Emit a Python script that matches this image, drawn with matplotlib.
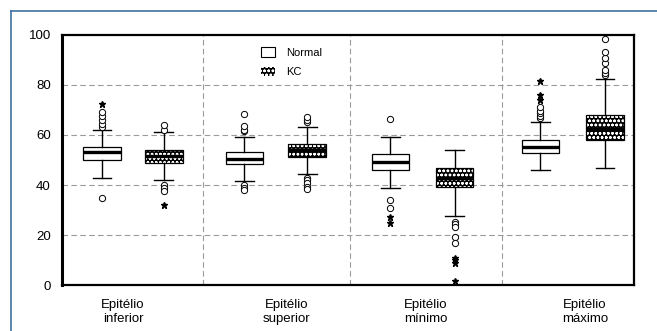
import matplotlib
matplotlib.use('Agg')
import matplotlib.pyplot as plt
from matplotlib.patches import Patch
from matplotlib.lines import Line2D

plt.rcParams['font.family'] = ['Liberation Sans', 'DejaVu Sans']
plt.rcParams['hatch.linewidth'] = 0.7

# group labels and box stats (Normal, KC alternating)
group_labels = ['Epitélio\ninferior', 'Epitélio\nsuperior', 'Epitélio\nmínimo', 'Epitélio\nmáximo']
group_label_pos = [0.427, 1.573, 2.545, 3.657]
group_dividers = [0.986, 2.014, 3.077]

box_names = ['Normal', 'KC'] * 4
box_pos = [0.28, 0.712, 1.276, 1.714, 2.296, 2.746, 3.346, 3.797]
q1 = [49.9, 48.9, 48.3, 51.3, 46.0, 39.1, 52.9, 57.9]
med = [53.2, 51.7, 50.4, 53.9, 49.2, 43.0, 55.0, 62.3]
q3 = [55.1, 54.0, 53.3, 56.4, 52.3, 46.9, 58.0, 68.0]
whis_lo = [42.9, 42.0, 41.6, 44.4, 38.9, 27.7, 45.9, 46.9]
whis_hi = [62.1, 61.2, 59.3, 63.3, 59.2, 54.0, 65.1, 82.3]
# outliers (circles) and extreme values (stars)
outliers = [
    [63, 64.5, 66, 67.5, 69, 34.9],
    [62, 64.1, 40, 38.7, 37.6],
    [61.4, 62, 63.6, 68.4, 40, 38.9, 38],
    [65, 66, 67, 43, 42, 41, 39.3, 38.3],
    [66.3, 34, 30.9],
    [25.3, 24.4, 23.3, 19.3, 16.7],
    [66.7, 67.7, 68.7, 69.7, 71],
    [84, 84.9, 86, 88.7, 90.9, 93.2, 98.3],
]
extremes = [
    [72.3],
    [31.9],
    [],
    [],
    [27.1, 25],
    [11, 10, 8.9, 1.6],
    [74, 76, 81.6],
    [],
]

fig = plt.figure(figsize=(6.57, 3.31), dpi=100)
ax = fig.add_axes([62 / 657, 46 / 331, 572 / 657, 250 / 331])

stats = []
for i in range(len(box_pos)):
    stats.append({'med': med[i], 'q1': q1[i], 'q3': q3[i],
                  'whislo': whis_lo[i], 'whishi': whis_hi[i],
                  'fliers': outliers[i], 'label': box_names[i]})

bp = ax.bxp(stats, positions=box_pos, widths=0.263, patch_artist=True,
            boxprops=dict(linewidth=0.9, edgecolor='black', facecolor='white'),
            medianprops=dict(color='black', linewidth=2.4),
            whiskerprops=dict(color='black', linewidth=1.0),
            capprops=dict(color='black', linewidth=1.0),
            flierprops=dict(marker='o', markersize=4.5, markerfacecolor='white',
                            markeredgecolor='black', markeredgewidth=0.7),
            zorder=3)

kc_hatch = 'oooo'
for i, box in enumerate(bp['boxes']):
    if box_names[i] == 'KC':
        box.set_facecolor('black')
        box.set_edgecolor('white')
        box.set_hatch(kc_hatch)
        box.set_linewidth(0)
        # black outline on top
        ax.add_patch(plt.Rectangle((box_pos[i] - 0.1315, q1[i]), 0.263, q3[i] - q1[i],
                                   fill=False, edgecolor='black', linewidth=0.9, zorder=3.5))

for i, ext in enumerate(extremes):
    if ext:
        ax.plot([box_pos[i]] * len(ext), ext, linestyle='none', marker='*',
                markersize=5, color='black', zorder=4)

ax.set_xlim(0, 4)
ax.set_ylim(0, 100)
ax.set_yticks([0, 20, 40, 60, 80, 100])
ax.set_xticks(group_label_pos)
ax.set_xticklabels(group_labels, fontsize=9.5)
ax.tick_params(axis='both', length=0, labelsize=9.5)
ax.tick_params(axis='y', pad=8)
ax.tick_params(axis='x', pad=10)

for y in [20, 40, 60, 80]:
    ax.axhline(y, color='#9a9a9a', linestyle=(0, (5, 3)), linewidth=0.8, zorder=1)
for x in group_dividers:
    ax.axvline(x, color='#9a9a9a', linestyle=(0, (5, 3)), linewidth=0.8, zorder=1)

for s in ax.spines.values():
    s.set_linewidth(1.6)
ax.spines['left'].set_linewidth(2.2)

handles = [Patch(facecolor='white', edgecolor='black', linewidth=0.8),
           Patch(facecolor='black', edgecolor='white', hatch=kc_hatch, linewidth=0)]
ax.legend(handles, ['Normal', 'KC'], loc='upper left', bbox_to_anchor=(0.33, 0.99),
          frameon=False, fontsize=8, handlelength=1.3, handleheight=0.9,
          handletextpad=1.0, labelspacing=0.8)

# outer blue frame
frame_color = '#41729f'
fig.add_artist(Line2D([11 / 657, 1.0], [1 - 11 / 331, 1 - 11 / 331],
                      transform=fig.transFigure, color=frame_color, linewidth=1.2))
fig.add_artist(Line2D([11 / 657, 11 / 657], [0, 1 - 11 / 331],
                      transform=fig.transFigure, color=frame_color, linewidth=1.2))

fig.savefig('out.png', dpi=100)
